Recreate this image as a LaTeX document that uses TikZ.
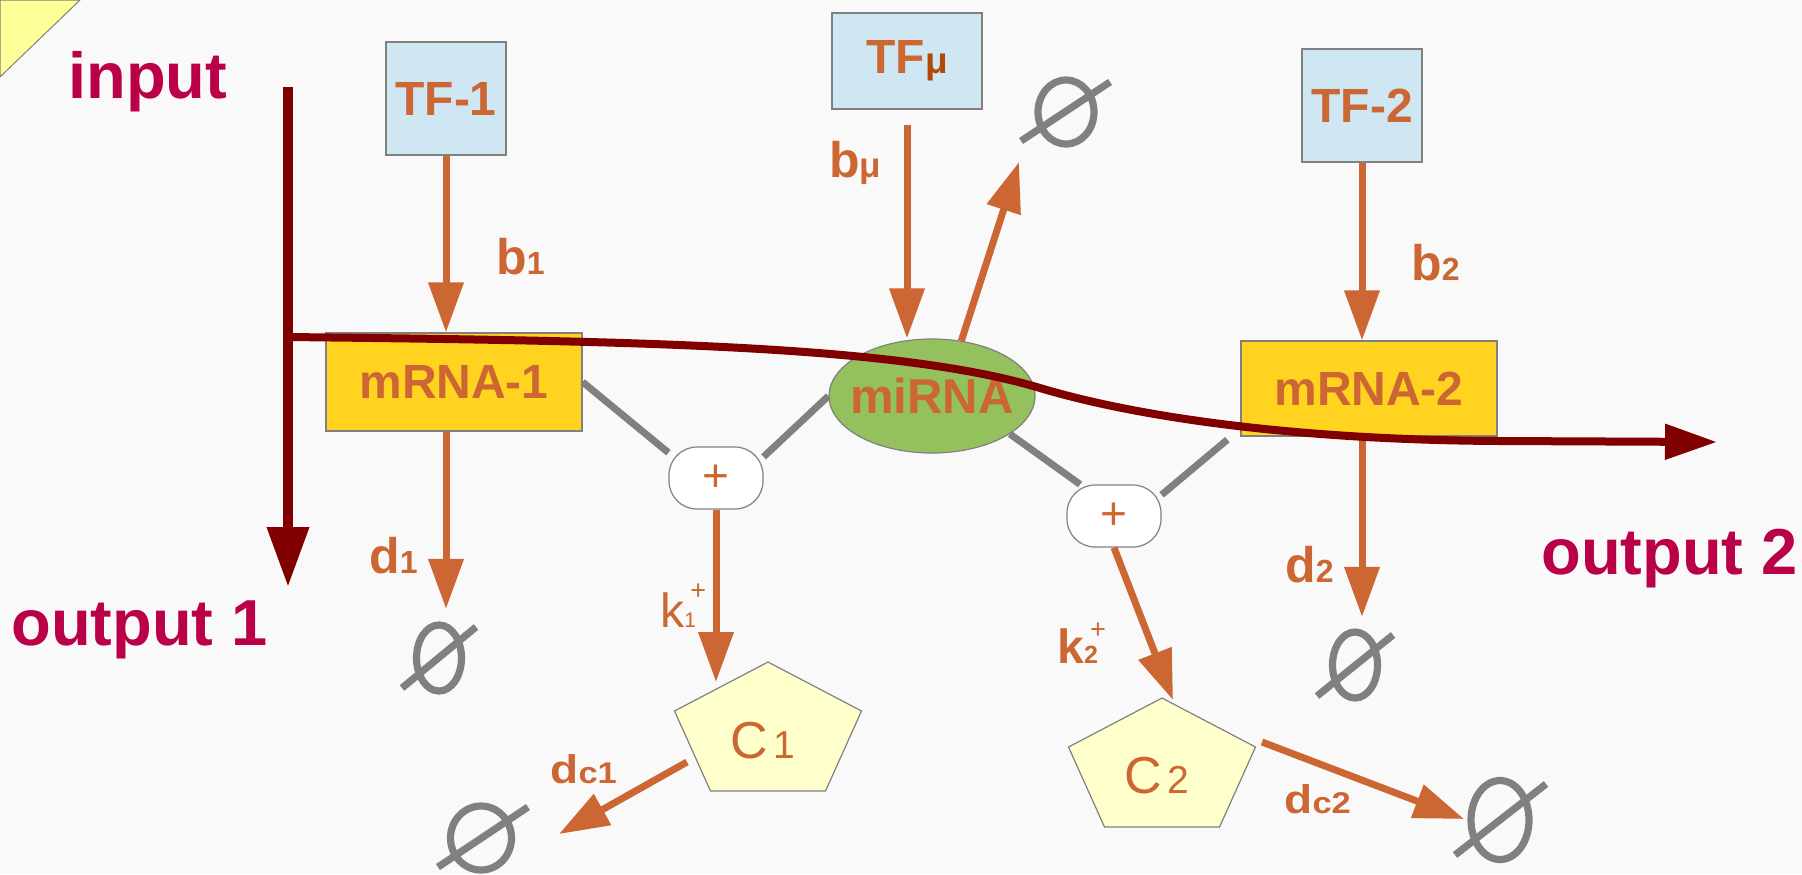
\documentclass[tikz,border=0pt]{standalone}
\usepackage{fontspec}
\usepackage{graphicx}
\setmainfont{Liberation Sans}
\usetikzlibrary{arrows.meta,shapes.geometric}

\definecolor{bgpaper}{RGB}{249,249,249}
\definecolor{rust}{RGB}{204,102,51}
\definecolor{rustdark}{RGB}{180,72,8}
\definecolor{wine}{RGB}{128,0,0}
\definecolor{crimson}{RGB}{185,0,72}
\definecolor{tfblue}{RGB}{207,230,243}
\definecolor{mgold}{RGB}{255,211,32}
\definecolor{migreen}{RGB}{148,192,94}
\definecolor{cpale}{RGB}{255,255,204}
\definecolor{nullgray}{RGB}{128,128,128}
\definecolor{notey}{RGB}{255,255,153}

\newcommand{\setfs}[1]{\fontsize{#1}{#1}\selectfont}

\begin{document}
\begin{tikzpicture}[x=0.5pt,y=-0.5pt,
  tfbox/.style={draw=nullgray, line width=0.6pt, fill=tfblue, inner sep=0pt,
    font=\setfs{24}\bfseries, text=rust},
  mbox/.style={draw=nullgray, line width=0.6pt, fill=mgold, inner sep=0pt,
    minimum width=128pt, font=\setfs{24}\bfseries, text=rust},
  joinnode/.style={draw=nullgray, line width=0.6pt, fill=white, rounded corners=14pt,
    minimum width=47pt, minimum height=31pt, inner sep=0pt, font=\setfs{23}, text=rust},
  nullset/.style={ellipse, draw=nullgray, line width=3.6pt, inner sep=0pt},
  slash/.style={draw=nullgray, line width=3.6pt},
  gline/.style={draw=nullgray, line width=3.5pt},
  oarrow/.style={draw=rust, line width=3.5pt, -{Triangle[length=25pt,width=17pt]}},
  pent/.style={fill=cpale, draw=nullgray, line width=0.6pt},
  ctext/.style={inner sep=0pt, anchor=base, text=rust, font=\setfs{26}},
  lbl/.style={inner sep=0pt, anchor=base west, text=rust},
  bigword/.style={inner sep=0pt, anchor=base west, text=crimson, font=\setfs{32.5}\bfseries},
  wineline/.style={draw=wine, line width=4pt}
]
\useasboundingbox (0,0) rectangle (1802,874);
\fill[bgpaper] (0,0) rectangle (1802,874);
\filldraw[fill=notey, draw=nullgray, line width=0.5pt] (0,0) -- (80,0) -- (0,77) -- cycle;

% transcription factors
\node[tfbox, minimum width=60pt, minimum height=56.5pt] (tf1) at (446,98.5) {TF-1};
\node[tfbox, minimum width=75pt, minimum height=48pt] (tfmu) at (907,61) {TF{\color{rustdark}\setfs{18.5}μ}};
\node[tfbox, minimum width=60pt, minimum height=56.5pt] (tf2) at (1362,105.5) {TF-2};

% transcripts
\node[mbox, minimum height=49pt] (mrna1) at (454,382) {mRNA-1};
\node[mbox, minimum height=47.5pt] (mrna2) at (1369,388.5) {mRNA-2};
\node[ellipse, draw=nullgray, line width=0.6pt, fill=migreen, minimum width=103pt,
  minimum height=57pt, inner sep=0pt] (mirna) at (932,396) {};
\node[inner sep=0pt, font=\setfs{24.5}\bfseries, text=rust] (mirnatxt) at (mirna.center) {miRNA};

% binding complexes
\node[joinnode] (plus1) at (716,478) {+};
\node[joinnode] (plus2) at (1114,516) {+};

% degradation sinks
\node[nullset, minimum width=22.5pt, minimum height=33pt] (z1) at (439,658) {};
\node[nullset, minimum width=28pt, minimum height=32pt] (zmu) at (1066,112) {};
\node[nullset, minimum width=22.5pt, minimum height=33pt] (z2) at (1355,665) {};
\node[nullset, minimum width=30.5pt, minimum height=32pt] (zc1) at (481,838) {};
\node[nullset, minimum width=29pt, minimum height=39.5pt] (zc2) at (1500,820) {};
\draw[slash] ([shift={(-37,30)}]z1.center) -- ([shift={(37,-31)}]z1.center);
\draw[slash] ([shift={(-45,29)}]zmu.center) -- ([shift={(44,-30)}]zmu.center);
\draw[slash] ([shift={(-38,31)}]z2.center) -- ([shift={(38,-30)}]z2.center);
\draw[slash] ([shift={(-43,29)}]zc1.center) -- ([shift={(47,-31)}]zc1.center);
\draw[slash] ([shift={(-45,35)}]zc2.center) -- ([shift={(46,-36)}]zc2.center);

% complexes C1 and C2
\coordinate (c1) at (768,733);
\coordinate (c2) at (1162,769);
\foreach \cc in {c1,c2}
  \filldraw[pent] ([shift={(0,-71)}]\cc) -- ([shift={(93.5,-22)}]\cc)
    -- ([shift={(57.5,58)}]\cc) -- ([shift={(-57.5,58)}]\cc)
    -- ([shift={(-93.5,-22)}]\cc) -- cycle;
\node[ctext] (c1txt) at (763,758) {C\hspace{2.5pt}{\setfs{19.5}1}};
\node[ctext] (c2txt) at (1157,793) {C\hspace{2.5pt}{\setfs{19.5}2}};

% pairing links
\draw[gline] (mrna1.east) -- (plus1.152);
\draw[gline] (plus1.24) -- (mirna.west);
\draw[gline] (mirna.-26) -- (plus2.137);
\draw[gline] (plus2.24) -- ([shift={(-13,3)}]mrna2.south west);

% reactions
\draw[oarrow] (tf1.south) -- (tf1.south |- mrna1.north);
\draw[oarrow, shorten <=7.5pt] (tfmu.south) -- (tfmu.south |- mirna.north);
\draw[oarrow] (tf2.south) -- (tf2.south |- mrna2.north);
\draw[oarrow] (mirna.62) -- ([shift={(-47,50)}]zmu.center);
\draw[oarrow, shorten >=6.25pt] (tf1.south |- mrna1.south) -- (tf1.south |- z1.north);
\draw[oarrow, shorten >=5.75pt] (tf2.south |- mrna2.south) -- (tf2.south |- z2.north);
\draw[oarrow] (plus1.south) -- ([shift={(-52,-51)}]c1);
\draw[oarrow] (plus2.south) -- ([shift={(11,-69)}]c2);
\draw[oarrow] ([shift={(-81,29)}]c1) -- ([shift={(78,-4)}]zc1.center);
\draw[oarrow] ([shift={(100,-27)}]c2) -- ([shift={(-36,-1)}]zc2.center);

% rate labels
\node[lbl] (b1lbl) at (496,274) {\bfseries\setfs{25}b\setfs{16}1};
\node[lbl] (bmulbl) at (829,177) {\bfseries\setfs{25}b\setfs{17.5}μ};
\node[lbl] (b2lbl) at (1411,280) {\bfseries\setfs{25}b\setfs{16}2};
\node[lbl] (d1lbl) at (369,573) {\bfseries\setfs{25}d\setfs{16}1};
\node[lbl] (d2lbl) at (1285,582) {\bfseries\setfs{25}d\setfs{16}2};
\node[lbl] (dc1lbl) at (550,783) {\scalebox{1.15}[1]{\bfseries\setfs{20}d\setfs{15}c1}};
\node[lbl] (dc2lbl) at (1284,813) {\scalebox{1.15}[1]{\bfseries\setfs{20}d\setfs{15}c2}};
\node[lbl] (k1lbl) at (660,627) {\setfs{24}k\setfs{10.5}\rlap{\hspace{3pt}\raisebox{14pt}{\setfs{13.5}+}}1};
\node[lbl] (k2lbl) at (1057,663) {\bfseries\setfs{24}k\setfs{12.5}\rlap{\hspace{3pt}\raisebox{12.5pt}{\mdseries\setfs{13.5}+}}2};

% signal path
\node[bigword] (inlbl) at (68,98) {input};
\node[bigword] (out1lbl) at (11,645) {output 1};
\node[bigword] (out2lbl) at (1541,574) {output 2};
\coordinate (intop) at (288,87);
\coordinate (out1tip) at (288,587);
\coordinate (junc) at (288,337);
\coordinate (out2tip) at (1717,442);
\draw[wineline, line width=5pt, -{Triangle[length=30pt,width=20pt]}] (intop) -- (out1tip);
\draw[wineline, -{Triangle[length=26pt,width=17pt]}] (junc)
  .. controls (650,341) and (900,346) .. (1040,388)
  .. controls (1140,418) and (1300,440) .. (1500,441) -- (out2tip);
\end{tikzpicture}
\end{document}
